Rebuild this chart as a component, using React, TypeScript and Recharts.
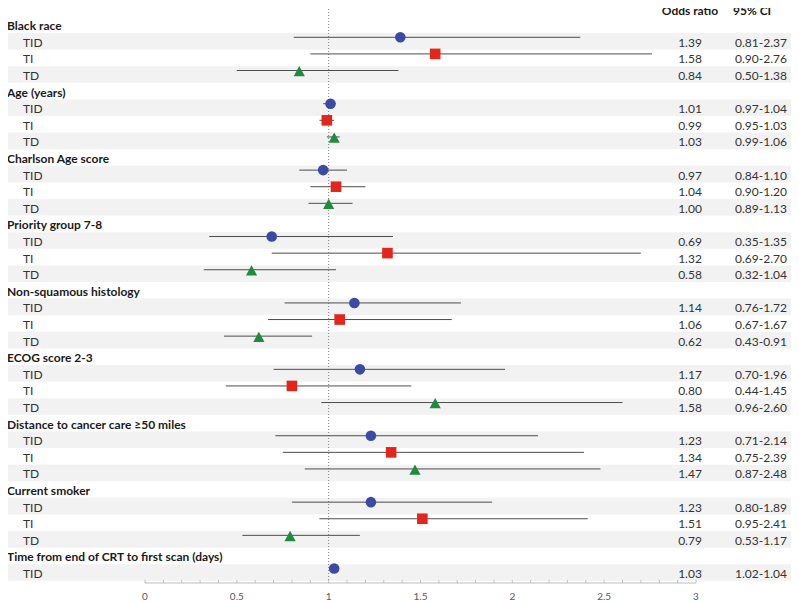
import { ErrorBar, ReferenceArea, ReferenceLine, Scatter, ScatterChart, XAxis, YAxis } from "recharts";

const groupLabels = [
  "Black race",
  "Age (years)",
  "Charlson Age score",
  "Priority group 7-8",
  "Non-squamous histology",
  "ECOG score 2-3",
  "Distance to cancer care ≥50 miles",
  "Current smoker",
  "Time from end of CRT to first scan (days)",
];
const seriesNames = ["TID", "TI", "TD"];

const tidOdds = [1.39, 1.01, 0.97, 0.69, 1.14, 1.17, 1.23, 1.23, 1.03];
const tidLow = [0.81, 0.97, 0.84, 0.35, 0.76, 0.7, 0.71, 0.8, 1.02];
const tidHigh = [2.37, 1.04, 1.1, 1.35, 1.72, 1.96, 2.14, 1.89, 1.04];

const tiOdds = [1.58, 0.99, 1.04, 1.32, 1.06, 0.8, 1.34, 1.51];
const tiLow = [0.9, 0.95, 0.9, 0.69, 0.67, 0.44, 0.75, 0.95];
const tiHigh = [2.76, 1.03, 1.2, 2.7, 1.67, 1.45, 2.39, 2.41];

const tdOdds = [0.84, 1.03, 1.0, 0.58, 0.62, 1.58, 1.47, 0.79];
const tdLow = [0.5, 0.99, 0.89, 0.32, 0.43, 0.96, 0.87, 0.53];
const tdHigh = [1.38, 1.06, 1.13, 1.04, 0.91, 2.6, 2.48, 1.17];

const xLabels = [0, 0.5, 1, 1.5, 2, 2.5, 3];

const COLORS = ["#3b4ba4", "#e3261c", "#1f8b3c"];
const FONT = "Lato, 'Open Sans', sans-serif";
const W = 799;
const H = 602;
const ROW_H = 16.6;
// band edges relative to a row, in row units (band sits a little below the marker)
const BAND_TOP = -0.26;
const BAND_BOTTOM = 0.74;
// x range of the shaded bands, in axis units, reaching past the plot on both sides
const BAND_X1 = -0.762;
const BAND_X2 = 3.561;

interface Row {
  row: number;
  label: string;
  header: boolean;
  shaded: boolean;
  series?: number;
  or?: number;
  lo?: number;
  hi?: number;
}

const seriesList = [
  { odds: tidOdds, low: tidLow, high: tidHigh },
  { odds: tiOdds, low: tiLow, high: tiHigh },
  { odds: tdOdds, low: tdLow, high: tdHigh },
];

function buildRows(): Row[] {
  const rows: Row[] = [];
  let r = 0;
  groupLabels.forEach((g, gi) => {
    rows.push({ row: r++, label: g, header: true, shaded: false });
    seriesList.forEach((s, si) => {
      const v = s.odds[gi];
      if (v === undefined) return;
      rows.push({
        row: r++,
        label: seriesNames[si],
        header: false,
        shaded: si !== 1,
        series: si,
        or: v,
        lo: s.low[gi],
        hi: s.high[gi],
      });
    });
  });
  return rows;
}

const rows = buildRows();
const rowTicks = rows.map((d) => d.row);
const minorTicks = Array.from({ length: 31 }, (_, i) => i / 10);

function RowTick(props: any) {
  const { y, payload } = props;
  const d = rows[payload.value];
  if (!d) return null;
  const ty = y + 5;
  return (
    <g>
      {d.row === 0 && (
        <g fontFamily={FONT} fontSize={12} fontWeight={700} fill="#1a1a1a">
          <text x={690} y={ty - ROW_H + 1.5} textAnchor="middle" dominantBaseline="central">
            Odds ratio
          </text>
          <text x={733} y={ty - ROW_H + 1.5} dominantBaseline="central">
            95% CI
          </text>
        </g>
      )}
      <text
        x={d.header ? 7 : 23}
        y={ty}
        fontFamily={FONT}
        fontSize={12}
        fontWeight={d.header ? 700 : 400}
        fill={d.header ? "#1a1a1a" : "#333"}
        dominantBaseline="central"
      >
        {d.label}
      </text>
      {!d.header && (
        <g fontFamily={FONT} fontSize={12} fill="#333">
          <text x={690} y={ty} textAnchor="middle" dominantBaseline="central">
            {d.or!.toFixed(2)}
          </text>
          <text x={735} y={ty} dominantBaseline="central">
            {`${d.lo!.toFixed(2)}-${d.hi!.toFixed(2)}`}
          </text>
        </g>
      )}
    </g>
  );
}

function XTick(props: any) {
  const { x, y, payload } = props;
  const v = payload.value as number;
  const major = xLabels.some((m) => Math.abs(m - v) < 1e-6);
  return (
    <g>
      <line x1={x} x2={x} y1={y - 3} y2={y} stroke="#bfbfbf" />
      {major && (
        <text
          x={x}
          y={y + 13}
          textAnchor="middle"
          dominantBaseline="central"
          fontFamily={FONT}
          fontSize={10}
          fill="#595959"
        >
          {v}
        </text>
      )}
    </g>
  );
}

function markerShape(si: number) {
  return (p: any) => {
    const { cx, cy } = p;
    if (si === 0) return <circle cx={cx} cy={cy} r={5.3} fill={COLORS[0]} />;
    if (si === 1) return <rect x={cx - 5.3} y={cy - 5.3} width={10.6} height={10.6} fill={COLORS[1]} />;
    return (
      <polygon
        points={`${cx},${cy - 4.5} ${cx + 5.6},${cy + 5.8} ${cx - 5.6},${cy + 5.8}`}
        fill={COLORS[2]}
      />
    );
  };
}

export default function App() {
  const seriesData = [0, 1, 2].map((si) =>
    rows
      .filter((d) => d.series === si)
      .map((d) => ({ x: d.or, y: d.row, err: [d.or! - d.lo!, d.hi! - d.or!] }))
  );
  return (
    <div style={{ margin: "-8px -8px 0 -8px" }}>
      <ScatterChart width={W} height={H} margin={{ top: 5, right: 103, left: 0, bottom: 0 }}>
        {rows
          .filter((d) => d.shaded)
          .map((d) => (
            <ReferenceArea
              key={`band-${d.row}`}
              yAxisId="rows"
              x1={BAND_X1}
              x2={BAND_X2}
              y1={d.row + BAND_TOP}
              y2={d.row + BAND_BOTTOM}
              ifOverflow="visible"
              fill="#f2f2f2"
              fillOpacity={1}
              stroke="none"
            />
          ))}
        <YAxis
          yAxisId="rows"
          type="number"
          dataKey="y"
          domain={[-0.946, 33.87]}
          reversed
          allowDataOverflow
          ticks={rowTicks}
          interval={0}
          tick={<RowTick />}
          tickLine={false}
          axisLine={false}
          width={145}
        />
        <XAxis
          type="number"
          dataKey="x"
          domain={[0, 3]}
          allowDataOverflow
          ticks={minorTicks}
          interval={0}
          tick={<XTick />}
          tickSize={0}
          tickMargin={0}
          tickLine={false}
          axisLine={{ stroke: "#bfbfbf" }}
          height={19}
        />
        <ReferenceLine yAxisId="rows" x={1} stroke="#808080" strokeDasharray="1 2" />
        {seriesData.map((data, si) => (
          <Scatter
            key={si}
            yAxisId="rows"
            data={data}
            shape={markerShape(si)}
            isAnimationActive={false}
          >
            <ErrorBar dataKey="err" direction="x" width={0} stroke="#4d4d4d" strokeWidth={1} />
          </Scatter>
        ))}
      </ScatterChart>
    </div>
  );
}
